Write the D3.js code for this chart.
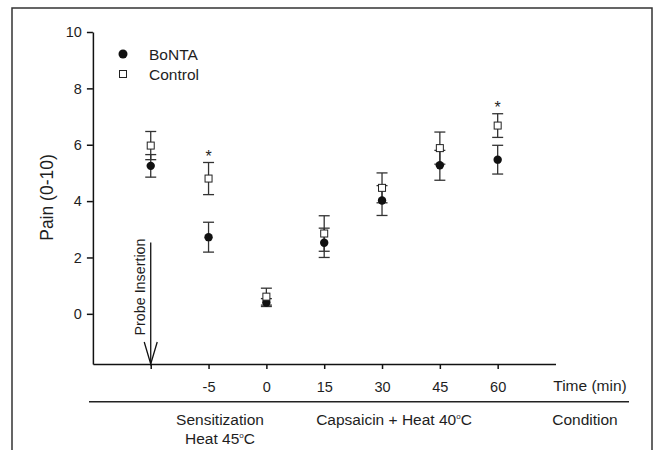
<!DOCTYPE html>
<html>
<head>
<meta charset="utf-8">
<script src="https://cdn.jsdelivr.net/npm/d3@7"></script>
<style>
  body { margin: 0; background: #fff; }
  text { font-family: "Liberation Sans", Arial, sans-serif; fill: #1e1e1e; }
</style>
</head>
<body>
<div id="chart"></div>
<script>
// time points (index 0 = probe insertion, no label)
const timeLabels = ["", "-5", "0", "15", "30", "45", "60"];
const bontaMean = [5.25, 2.72, 0.40, 2.52, 4.02, 5.27, 5.47];
const bontaSE = [0.40, 0.53, 0.14, 0.52, 0.53, 0.53, 0.51];
const controlMean = [5.97, 4.80, 0.61, 2.85, 4.47, 5.88, 6.68];
const controlSE = [0.50, 0.57, 0.30, 0.63, 0.53, 0.57, 0.42];
const sigIdx = [1, 6];
const yTicks = [0, 2, 4, 6, 8, 10];

const width = 657;
const height = 450;

const svg = d3.select("#chart").append("svg")
  .attr("width", width)
  .attr("height", height);

// frame
svg.append("rect")
  .attr("x", 12).attr("y", 8)
  .attr("width", 640).attr("height", 460)
  .attr("fill", "none")
  .attr("stroke", "#333")
  .attr("stroke-width", 1.5);

const xScale = d3.scaleLinear().domain([-1, 7]).range([92.9, 555.5]);
const yScale = d3.scaleLinear().domain([-1.78, 10]).range([364, 32]);

// y axis
const axisy = d3.axisLeft(yScale).tickValues(yTicks).tickSize(6).tickSizeOuter(0).tickPadding(5);
const gy = svg.append("g")
  .attr("transform", "translate(" + xScale(-1) + ",0)")
  .call(axisy);
gy.selectAll("text").style("font-size", "14.5px").attr("fill", "#1e1e1e");

// x axis
const axisx = d3.axisBottom(xScale)
  .tickValues(d3.range(timeLabels.length))
  .tickFormat(function (d) { return timeLabels[d]; })
  .tickSize(5).tickSizeOuter(0).tickPadding(13);
const gx = svg.append("g")
  .attr("transform", "translate(0," + yScale(-1.78) + ")")
  .call(axisx);
gx.selectAll("text").style("font-size", "14.5px").attr("fill", "#1e1e1e");

svg.selectAll(".domain, .tick line").attr("stroke", "#111").attr("stroke-width", 1.5);

// axis titles
svg.append("text")
  .attr("transform", "translate(53,197.5) rotate(-90)")
  .attr("text-anchor", "middle")
  .style("font-size", "17.5px")
  .text("Pain (0-10)");

svg.append("text")
  .attr("x", 590).attr("y", 391)
  .attr("text-anchor", "middle")
  .style("font-size", "15.5px")
  .text("Time (min)");

// separator line under time labels
svg.append("line")
  .attr("x1", 89).attr("x2", 629)
  .attr("y1", 401.7).attr("y2", 401.7)
  .attr("stroke", "#222").attr("stroke-width", 1.5);

// condition labels
function degText(x, y, before, after) {
  const t = svg.append("text")
    .attr("x", x).attr("y", y)
    .attr("text-anchor", "middle")
    .style("font-size", "15.5px");
  t.append("tspan").text(before);
  t.append("tspan").attr("dy", -6.5).style("font-size", "8px").text("o");
  t.append("tspan").attr("dy", 6.5).text(after);
  return t;
}
svg.append("text")
  .attr("x", 220).attr("y", 425)
  .attr("text-anchor", "middle")
  .style("font-size", "15.5px")
  .text("Sensitization");
degText(220, 444, "Heat 45", "C");
degText(394, 425, "Capsaicin + Heat 40", "C");
svg.append("text")
  .attr("x", 585).attr("y", 425)
  .attr("text-anchor", "middle")
  .style("font-size", "15.5px")
  .text("Condition");

// probe insertion arrow
const px = xScale(0);
const axisY = yScale(-1.78);
svg.append("line")
  .attr("x1", px).attr("x2", px)
  .attr("y1", 242.5).attr("y2", axisY)
  .attr("stroke", "#111").attr("stroke-width", 1.3);
svg.append("path")
  .attr("d", "M" + (px - 6.5) + "," + (axisY - 22) + "L" + px + "," + axisY + "L" + (px + 6.5) + "," + (axisY - 22))
  .attr("fill", "none").attr("stroke", "#111").attr("stroke-width", 1.3);
svg.append("text")
  .attr("transform", "translate(" + (px - 5.5) + ",287) rotate(-90)")
  .attr("text-anchor", "middle")
  .style("font-size", "14.3px")
  .text("Probe Insertion");

// error bars
function errorBars(means, ses) {
  const g = svg.append("g").attr("stroke", "#333").attr("stroke-width", 1.3);
  means.forEach(function (m, i) {
    const cx = xScale(i);
    const yt = yScale(m + ses[i]);
    const yb = yScale(m - ses[i]);
    g.append("line").attr("x1", cx).attr("x2", cx).attr("y1", yt).attr("y2", yb);
    g.append("line").attr("x1", cx - 5.5).attr("x2", cx + 5.5).attr("y1", yt).attr("y2", yt);
    g.append("line").attr("x1", cx - 5.5).attr("x2", cx + 5.5).attr("y1", yb).attr("y2", yb);
  });
}
errorBars(bontaMean, bontaSE);
errorBars(controlMean, controlSE);

// BoNTA points
svg.append("g")
  .selectAll("circle")
  .data(bontaMean)
  .enter()
  .append("circle")
  .attr("cx", function (d, i) { return xScale(i); })
  .attr("cy", function (d) { return yScale(d); })
  .attr("r", 4.2)
  .attr("fill", "#111");

// Control points
svg.append("g")
  .selectAll("rect")
  .data(controlMean)
  .enter()
  .append("rect")
  .attr("x", function (d, i) { return xScale(i) - 3.5; })
  .attr("y", function (d) { return yScale(d) - 3.5; })
  .attr("width", 7).attr("height", 7)
  .attr("fill", "#fff")
  .attr("stroke", "#222").attr("stroke-width", 1);

// significance stars
svg.append("g")
  .selectAll("text")
  .data(sigIdx)
  .enter()
  .append("text")
  .attr("x", function (d) { return xScale(d); })
  .attr("y", function (d) { return yScale(controlMean[d] + controlSE[d]) - 0.5; })
  .attr("text-anchor", "middle")
  .style("font-size", "16px")
  .attr("fill", "#333")
  .text("*");

// legend
svg.append("circle").attr("cx", 123).attr("cy", 54).attr("r", 4.5).attr("fill", "#111");
svg.append("rect").attr("x", 119.5).attr("y", 70.5).attr("width", 7).attr("height", 7)
  .attr("fill", "#fff").attr("stroke", "#222").attr("stroke-width", 1);
svg.append("text").attr("x", 149).attr("y", 59.5).style("font-size", "15.5px").text("BoNTA");
svg.append("text").attr("x", 149).attr("y", 80).style("font-size", "15.5px").text("Control");
</script>
</body>
</html>
